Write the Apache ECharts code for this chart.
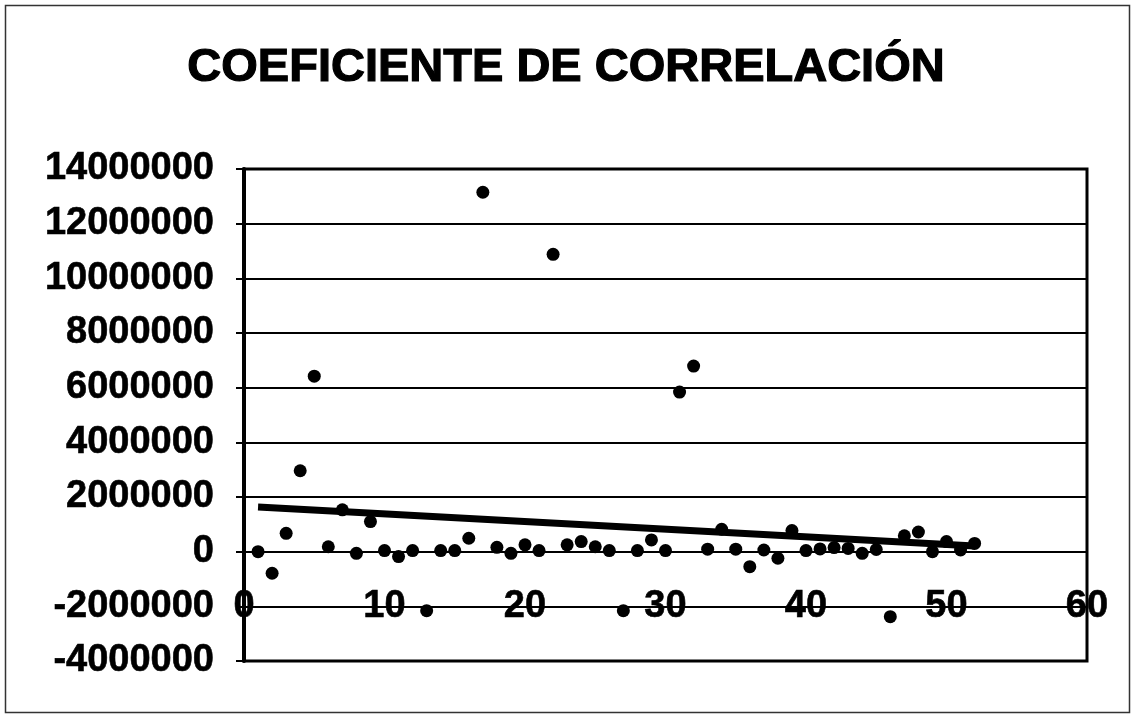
<!DOCTYPE html>
<html>
<head>
<meta charset="utf-8">
<script src="https://cdn.jsdelivr.net/npm/echarts@6/dist/echarts.min.js"></script>
<style>
  html, body { margin: 0; padding: 0; background: #ffffff; }
  #chart { width: 1132px; height: 716px; }
</style>
</head>
<body>
<div id="chart"></div>
<script>
// Chart title
const titleText = 'COEFICIENTE DE CORRELACIÓN';

// Observation number (x) and value (y) of each point
const xValues = [
  1, 2, 3, 4, 5, 6, 7, 8, 9, 10,
  11, 12, 13, 14, 15, 16, 17, 18, 19, 20,
  21, 22, 23, 24, 25, 26, 27, 28, 29, 30,
  31, 32, 33, 34, 35, 36, 37, 38, 39, 40,
  41, 42, 43, 44, 45, 46, 47, 48, 49, 50,
  51, 52
];
const yValues = [
  0, -790000, 670000, 2960000, 6420000, 180000, 1530000, -60000, 1100000, 40000,
  -180000, 40000, -2160000, 40000, 40000, 490000, 13150000, 160000, -60000, 250000,
  40000, 10880000, 250000, 370000, 180000, 40000, -2160000, 40000, 430000, 40000,
  5840000, 6790000, 90000, 820000, 90000, -550000, 60000, -240000, 770000, 40000,
  100000, 150000, 120000, -60000, 80000, -2380000, 580000, 720000, 0, 370000,
  60000, 300000
];

// Axis ranges and tick steps
const xMin = 0, xMax = 60, xStep = 10;
const yMin = -4000000, yMax = 14000000, yStep = 2000000;

// Least-squares linear trend through the points, spanning the observed x range
function linearTrend(xs, ys) {
  const n = xs.length;
  let sx = 0, sy = 0, sxx = 0, sxy = 0;
  for (let i = 0; i < n; i++) {
    sx += xs[i]; sy += ys[i];
    sxx += xs[i] * xs[i]; sxy += xs[i] * ys[i];
  }
  const slope = (n * sxy - sx * sy) / (n * sxx - sx * sx);
  const intercept = (sy - slope * sx) / n;
  const x0 = Math.min.apply(null, xs), x1 = Math.max.apply(null, xs);
  return [[x0, intercept + slope * x0], [x1, intercept + slope * x1]];
}

const points = xValues.map((x, i) => [x, yValues[i]]);
const trend = linearTrend(xValues, yValues);

const FONT = '"Liberation Sans", Arial, sans-serif';
const chart = echarts.init(document.getElementById('chart'), null, { renderer: 'canvas' });

chart.setOption({
  animation: false,
  backgroundColor: '#ffffff',
  title: {
    text: titleText,
    left: 'center',
    top: 40,
    textStyle: {
      fontFamily: FONT,
      fontWeight: 'bold',
      fontSize: 47,
      color: '#000',
      textBorderColor: '#000',
      textBorderWidth: 1.2
    }
  },
  graphic: [{
    type: 'rect',
    left: 3, top: 3,
    shape: { width: 1124, height: 707 },
    style: { fill: 'none', stroke: '#333', lineWidth: 1.5 },
    silent: true
  }],
  grid: {
    left: 244, right: 45, top: 169, bottom: 55,
    show: true,
    borderColor: '#000',
    borderWidth: 3,
    backgroundColor: 'transparent'
  },
  xAxis: {
    type: 'value',
    min: xMin, max: xMax, interval: xStep,
    position: 'bottom',
    offset: -54.7,
    axisLine: { show: true, lineStyle: { color: '#000', width: 2 } },
    axisTick: { show: false },
    splitLine: { show: false },
    axisLabel: {
      margin: -19,
      showMinLabel: true,
      showMaxLabel: true,
      fontFamily: FONT,
      fontWeight: 'bold',
      fontSize: 38,
      lineHeight: 38,
      color: '#000',
      textBorderColor: '#000',
      textBorderWidth: 0.6
    }
  },
  yAxis: {
    type: 'value',
    min: yMin, max: yMax, interval: yStep,
    axisLine: { show: true, lineStyle: { color: '#000', width: 4 } },
    axisTick: { show: true, inside: false, length: 8, lineStyle: { color: '#000', width: 2 } },
    splitLine: { show: true, lineStyle: { color: '#000', width: 2 } },
    axisLabel: {
      margin: 30,
      formatter: (v) => String(v),
      fontFamily: FONT,
      fontWeight: 'bold',
      fontSize: 38,
      color: '#000',
      textBorderColor: '#000',
      textBorderWidth: 0.6
    }
  },
  series: [
    {
      type: 'line',
      data: trend,
      symbol: 'none',
      lineStyle: { color: '#000', width: 7 },
      z: 2
    },
    {
      type: 'scatter',
      data: points,
      symbol: 'circle',
      symbolSize: 13,
      itemStyle: { color: '#000', opacity: 1 },
      z: 3
    }
  ]
});
</script>
</body>
</html>
